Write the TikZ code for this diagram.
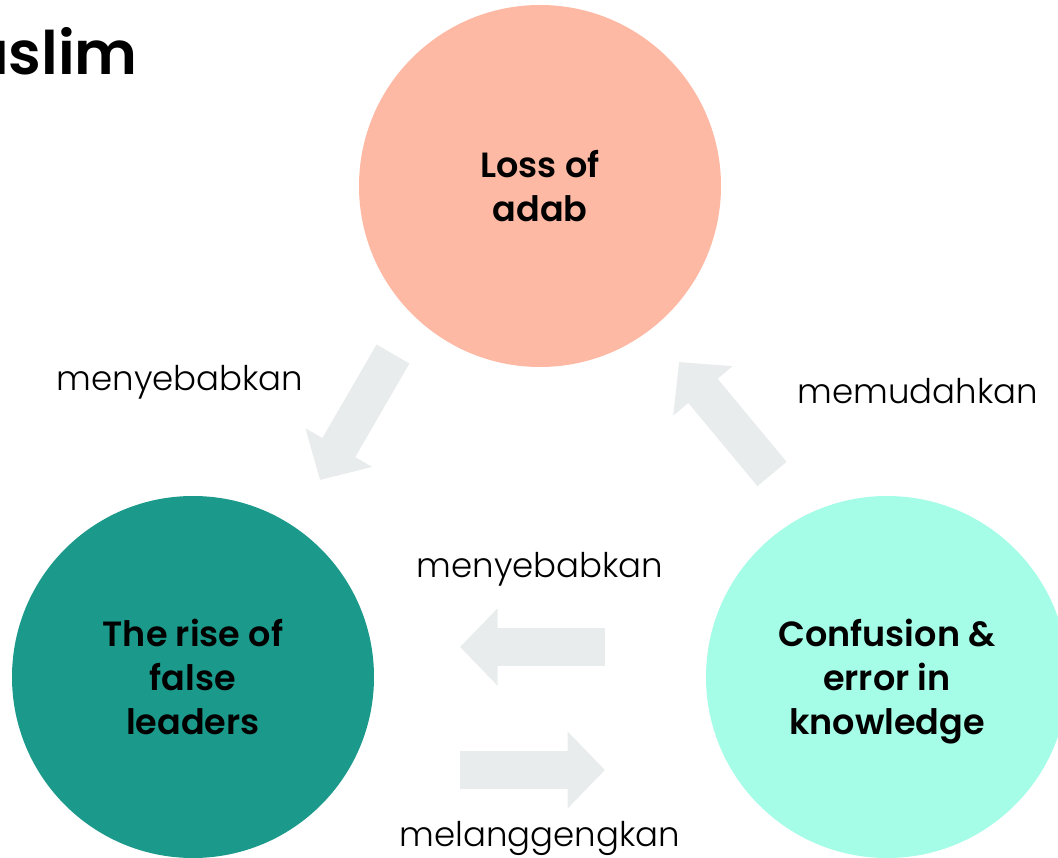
\documentclass[tikz,border=0pt]{standalone}
\usepackage{fontspec}
\setmainfont{Poppins}
\newfontfamily\thinfont{Poppins Light}
\newfontfamily\heavyfont{Poppins SemiBold}
\usetikzlibrary{arrows.meta}
\definecolor{adabpeach}{RGB}{253,185,163}
\definecolor{leaderteal}{RGB}{27,153,138}
\definecolor{confaqua}{RGB}{165,252,231}
\definecolor{arrowgray}{RGB}{232,236,237}
\begin{document}
\begin{tikzpicture}[x=1pt, y=-1pt,
    bubble/.style={circle, minimum size=362pt, inner sep=0pt, align=center, text depth=0pt, font=\heavyfont\fontsize{35}{44}\selectfont},
    verb/.style={anchor=base, inner sep=0pt, font=\thinfont\fontsize{34}{40}\selectfont},
    fat/.style={draw=arrowgray, line width=38pt, -{Triangle[length=37.5pt, width=75pt]}}]
    \useasboundingbox (0,0) rectangle (1058,858);
    \clip (0,0) rectangle (1058,858);
    \node[anchor=base east, inner sep=0pt, font=\heavyfont\fontsize{60}{66}\selectfont] (title) at (138,75) {Muslim};
    % the three circles
    \node[bubble, fill=adabpeach] (adab) at (540,186) {Loss of\\adab};
    \node[bubble, fill=leaderteal] (leaders) at (193,677) {The rise of\\false\\leaders};
    \node[bubble, fill=confaqua] (confusion) at (887,677) {Confusion \&\\error in\\knowledge};
    % block arrows
    \coordinate (c1) at (393,354); \coordinate (c2) at (320,480);
    \coordinate (m1) at (772,474); \coordinate (m2) at (679,362);
    \coordinate (s1) at (605,647); \coordinate (s2) at (460,647);
    \coordinate (l1) at (460,770); \coordinate (l2) at (605,770);
    \draw[fat] (c1) -- (c2);
    \draw[fat] (m1) -- (m2);
    \draw[fat] (s1) -- (s2);
    \draw[fat] (l1) -- (l2);
    \node[verb] (cause) at (180,391) {menyebabkan};
    \node[verb] (ease) at (918,404) {memudahkan};
    \node[verb] (cause2) at (540,577) {menyebabkan};
    \node[verb] (keep) at (540,846) {melanggengkan};
\end{tikzpicture}
\end{document}
